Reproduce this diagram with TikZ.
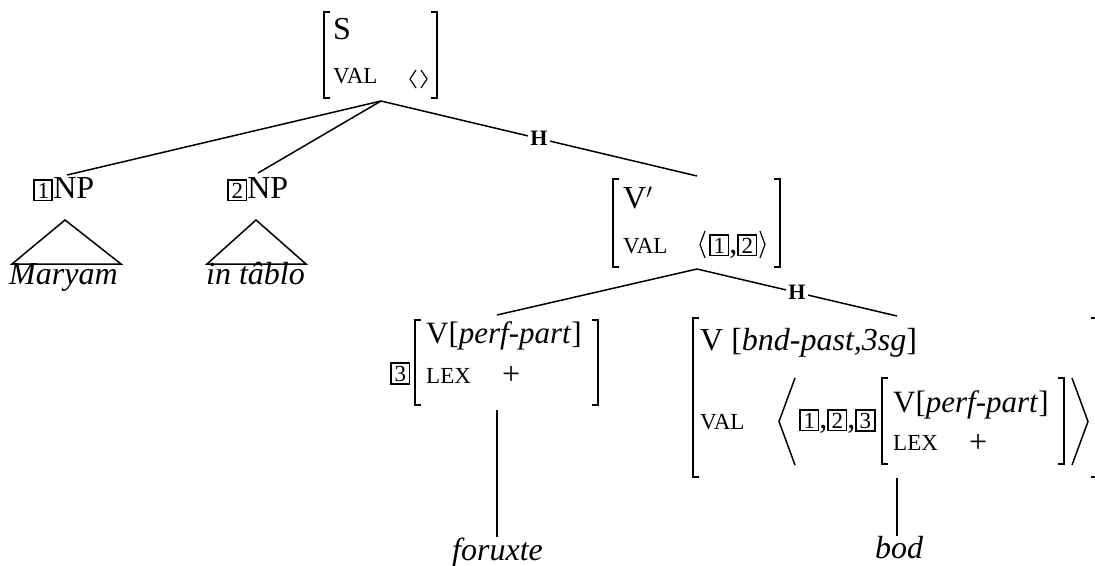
\documentclass[tikz,border=0pt]{standalone}
\usepackage{fontspec}
\setmainfont{Liberation Serif}
\newcommand\tg[1]{{\setlength\fboxsep{1.5pt}\setlength\fboxrule{1.8pt}\fbox{\fontsize{23}{23}\selectfont\rule{0pt}{16pt}\makebox[13.5pt]{#1}}}}
\newcommand\LBr[3]{\draw[brk] (#1+6,#2) -- (#1,#2) -- (#1,#3) -- (#1+6,#3);}
\newcommand\RBr[3]{\draw[brk] (#1-6,#2) -- (#1,#2) -- (#1,#3) -- (#1-6,#3);}
\tikzset{
  edge/.style={line width=1.5pt},
  brk/.style={line width=1.4pt},
  ang/.style={line width=1.2pt, line join=miter},
  bigang/.style={line width=1.5pt, line join=miter},
  txt/.style={anchor=base west, inner sep=0pt, font=\fontsize{32}{32}\selectfont},
  ptxt/.style={anchor=base west, inner sep=0pt, font=\fontsize{31}{31}\selectfont},
  feat/.style={anchor=base west, inner sep=0pt, font=\fontsize{23}{23}\selectfont},
  hlab/.style={fill=white, inner sep=2pt, font=\fontsize{22}{22}\selectfont\bfseries},
}
\begin{document}
\begin{tikzpicture}[x=1pt,y=-1pt]
\useasboundingbox (0,0) rectangle (1095,565);

% ---------- S AVM ----------
\LBr{324}{12}{98}
\RBr{437}{12}{98}
\node[txt] (Slab) at (333,39) {S};
\node[feat] (Sval) at (333,83) {VAL};
\draw[ang] (416,70) -- (410,79) -- (416,88);
\draw[ang] (421,70) -- (427,79) -- (421,88);
\coordinate (Sroot) at (381,101);

% ---------- NPs ----------
\node[txt] (np1) at (33,198) {\tg{1}NP};
\node[txt] (np2) at (227,198) {\tg{2}NP};
\coordinate (np1top) at (67,175);
\coordinate (np2top) at (258,173);
\coordinate (t1a) at (65,220);
\coordinate (t1l) at (12,264);
\coordinate (t1r) at (121,264);
\coordinate (t2a) at (256,220);
\coordinate (t2l) at (207,264);
\coordinate (t2r) at (306,264);
\draw[edge, line join=miter] (t1a) -- (t1l) -- (t1r) -- cycle;
\draw[edge, line join=miter] (t2a) -- (t2l) -- (t2r) -- cycle;
\node[txt] (maryam) at (9,284) {\textit{Maryam}};
\node[txt] (tablo) at (206,284) {\textit{in tâblo}};

% ---------- V' AVM ----------
\LBr{613}{179}{267}
\RBr{780}{179}{267}
\node[txt] (Vlab) at (623,208) {V$'$};
\node[feat] (Vval) at (623,253) {VAL};
\draw[ang] (705,231) -- (700,244.5) -- (705,258);
\node[txt] (Vtags) at (709,253) {\tg{1},\tg{2}};
\draw[ang] (760,231) -- (765,244.5) -- (760,258);
\coordinate (Vtop) at (697,176);
\coordinate (Vroot) at (697,269);

% ---------- edges from S ----------
\draw[edge] (Sroot) -- (np1top);
\draw[edge] (Sroot) -- (np2top);
\draw[edge] (Sroot) -- node[hlab] {H} (Vtop);

% ---------- perf-part AVM ----------
\node[txt] (p3tag) at (390,381) {\tg{3}};
\LBr{415}{320}{405}
\RBr{598}{320}{405}
\node[ptxt] (p3lab) at (426,343) {V[\textit{perf-part}]};
\node[feat] (p3lex) at (426,383) {LEX};
\node[txt] (p3plus) at (502,384) {+};
\coordinate (p3top) at (497,315);
\coordinate (p3bot) at (497,410);

% ---------- bnd-past AVM ----------
\LBr{693}{318}{477}
\draw[brk] (1091,318) -- (1098,318) -- (1098,477) -- (1091,477);
\node[txt] (Blab) at (700,350) {V [\textit{bnd-past,3sg}]};
\node[feat] (Bval) at (700,429) {VAL};
\draw[bigang] (795,378) -- (779,421.5) -- (795,465);
\node[txt] (Btags) at (799,428) {\tg{1},\tg{2},\tg{3}};
\LBr{882}{378}{464}
\RBr{1064}{378}{464}
\node[ptxt] (Ilab) at (893,412) {V[\textit{perf-part}]};
\node[feat] (Ilex) at (893,450) {LEX};
\node[txt] (Iplus) at (969,452) {+};
\draw[bigang] (1072,378) -- (1088,421.5) -- (1072,465);
\coordinate (Btop) at (897,316);
\coordinate (Bbot) at (897,478);

% ---------- edges from V' ----------
\draw[edge] (Vroot) -- (p3top);
\draw[edge] (Vroot) -- node[hlab] {H} (Btop);

% ---------- words ----------
\node[txt] (foruxte) at (452,560) {\textit{foruxte}};
\node[txt] (bod) at (875,558) {\textit{bod}};
\draw[edge] (p3bot) -- (p3bot |- foruxte.north);
\draw[edge] (Bbot) -- (Bbot |- bod.north);
\end{tikzpicture}
\end{document}
